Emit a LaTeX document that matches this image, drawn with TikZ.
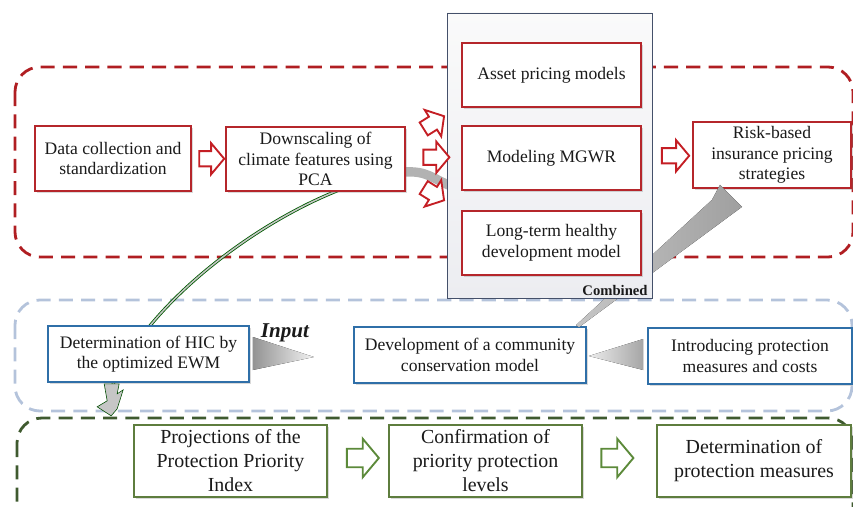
\documentclass[tikz,border=0pt]{standalone}
\usepackage{fontspec}
\setmainfont{Liberation Serif}
\usetikzlibrary{positioning,shapes,calc,backgrounds,shadows}
\definecolor{boxred}{HTML}{B5262B}
\definecolor{arrred}{HTML}{C41E24}
\definecolor{boxblue}{HTML}{2F6FA8}
\definecolor{boxgreen}{HTML}{5E7D3E}
\definecolor{arrgreen}{HTML}{5C8A3A}
\definecolor{dashred}{HTML}{B01E22}
\definecolor{dashblue}{HTML}{B4C3DB}
\definecolor{dashgreen}{HTML}{3F5A2F}
\definecolor{combfill}{HTML}{ECEDF1}
\definecolor{combdraw}{HTML}{44506A}
\definecolor{textdark}{HTML}{1A1A1A}

\begin{document}
\begin{tikzpicture}[x=0.03cm,y=-0.03cm]
  \tikzstyle{box}=[draw,fill=white,line width=1.4pt,align=center,inner sep=2pt,text=textdark,drop shadow={shadow xshift=1.5pt,shadow yshift=-1.5pt,opacity=0.3}]
  \tikzstyle{redbox}=[box,draw=boxred,font=\fontsize{15}{17.5}\selectfont,minimum width=5.37cm,minimum height=1.92cm]
  \tikzstyle{bluebox}=[box,draw=boxblue,font=\fontsize{15}{17.5}\selectfont,minimum height=1.68cm]
  \tikzstyle{greenbox}=[box,draw=boxgreen,font=\fontsize{17}{20.5}\selectfont,minimum width=5.79cm,minimum height=2.16cm]
  \tikzstyle{redarrow}=[single arrow,draw=arrred,fill=white,line width=1.6pt,minimum height=0.75cm,inner xsep=0pt,inner ysep=0.2cm,single arrow head extend=0.24cm,single arrow tip angle=100]
  \tikzstyle{greenarrow}=[single arrow,draw=arrgreen,fill=white,line width=1.6pt,minimum height=0.96cm,inner xsep=0pt,inner ysep=0.25cm,single arrow head extend=0.3cm,single arrow tip angle=100]
  \tikzstyle{dashbox}=[line width=2.4pt,dash pattern=on 12pt off 7pt,rounded corners=0.75cm]
  \useasboundingbox (0,0) rectangle (853,506);
  \clip (0,0) rectangle (853,506);

  \draw (113,158.5) node[redbox,minimum width=4.68cm,minimum height=1.95cm] (data) {Data collection and\\standardization};
  \draw (315.5,159) node[redbox] (down) {Downscaling of\\climate features using\\PCA};
  \draw (772,155) node[redbox,minimum width=4.74cm,minimum height=1.98cm] (risk) {Risk-based\\insurance pricing\\strategies};

  \draw (148.5,354) node[bluebox,minimum width=6.03cm] (hic) {Determination of HIC by\\the optimized EWM};
  \draw (470,355) node[bluebox,minimum width=6.96cm] (devel) {Development of a community\\conservation model};
  \draw (750,356) node[bluebox,minimum width=6.12cm] (intro) {Introducing protection\\measures and costs};

  \draw (230.5,461) node[greenbox] (proj) {Projections of the\\Protection Priority\\Index};
  \draw (485.5,461) node[greenbox] (confirm) {Confirmation of\\priority protection\\levels};
  \draw (754,461) node[greenbox,minimum width=5.82cm] (determ) {Determination of\\protection measures};

  \fill[left color=gray!45,right color=gray!75] ($(devel.north)+(106,-1)$) -- ($(risk.south)+(-60,11)$) -- ($(risk.south)+(-52,-4)$) -- ($(risk.south)+(-30,18)$) -- ($(devel.north)+(109,1)$) -- cycle;

  \draw (549.5,155.5) node[draw=combdraw,line width=0.8pt,top color=combfill!70!gray!10,bottom color=combfill,minimum width=6.15cm,minimum height=8.55cm] (combined) {};
  \draw (551.5,75) node[redbox] (asset) {Asset pricing models};
  \draw (551.5,158) node[redbox] (mgwr) {Modeling MGWR};
  \draw (551.5,243) node[redbox] (longterm) {Long-term healthy\\development model};
  \draw ([xshift=-3pt,yshift=1pt]combined.south east) node[anchor=south east,inner sep=1pt,font=\fontsize{12.5}{14}\selectfont\bfseries,text=textdark] (comblabel) {Combined};

  \draw (285,333) node[font=\fontsize{18}{20}\selectfont\bfseries\itshape,text=textdark] (input) {Input};

  \draw ($(data.east)!0.5!(down.west)+(0,0)$) node[redarrow] (a1) {};
  \draw ($(down.east)!0.5!(combined.west)+(5,-33)$) node[redarrow,rotate=32,minimum height=0.72cm] (a2) {};
  \draw ($(down.east)!0.5!(combined.west)+(7,0)$) node[redarrow,minimum height=0.78cm] (a3) {};
  \draw ($(down.east)!0.5!(combined.west)+(5,35)$) node[redarrow,rotate=-32,minimum height=0.72cm] (a4) {};
  \draw ($(combined.east)!0.5!(risk.west)+(0,0.5)$) node[redarrow,minimum height=0.82cm] (a5) {};
  \draw ($(proj.east)!0.5!(confirm.west)+(1,-3)$) node[greenarrow] (g1) {};
  \draw ($(confirm.east)!0.5!(determ.west)+(-6,-3)$) node[greenarrow] (g2) {};

  \fill[left color=gray!85,right color=gray!10] ($(hic.east)+(3,-17)$) -- ($(hic.east)+(64,3)$) -- ($(hic.east)+(3,16)$) -- cycle;
  \fill[left color=gray!15,right color=gray!70] ($(devel.east)+(2,1)$) -- ($(intro.west)+(-4,-17)$) -- ($(intro.west)+(-4,14)$) -- cycle;

  \begin{pgfonlayer}{background}
    \draw[dashbox,dashred] (15,67) rectangle (853,257);
    \draw[dashbox,dashblue] (15,300) rectangle (852,411);
    \draw[dashbox,dashgreen] (17,418) rectangle (853,540);
    \draw[line width=8pt,gray!60] ($(combined.west)+(3,30)$) .. controls ($(combined.west)+(-20,20)$) and ($(down.east)+(20,10)$) .. ($(down.east)+(-15,14)$);
    \draw[draw=green!35!black,double=gray!45,double distance=1.3pt,line width=0.7pt] ($(down.east)+(-15,16)$) .. controls (300,190) and (150,290) .. ($(hic.south west)+(64,6)$);
    \filldraw[fill=gray!45,draw=green!30!black,line width=0.5pt] ($(hic.south west)+(57,1)$) -- ($(hic.south west)+(72,1)$) -- ($(hic.south west)+(70,11)$) -- ($(hic.south west)+(76,7)$) -- ($(hic.south west)+(70,26)$) -- ($(hic.south west)+(64,33)$) -- ($(hic.south west)+(50,24)$) -- ($(hic.south west)+(60,18)$) -- cycle;
  \end{pgfonlayer}
\end{tikzpicture}
\end{document}
